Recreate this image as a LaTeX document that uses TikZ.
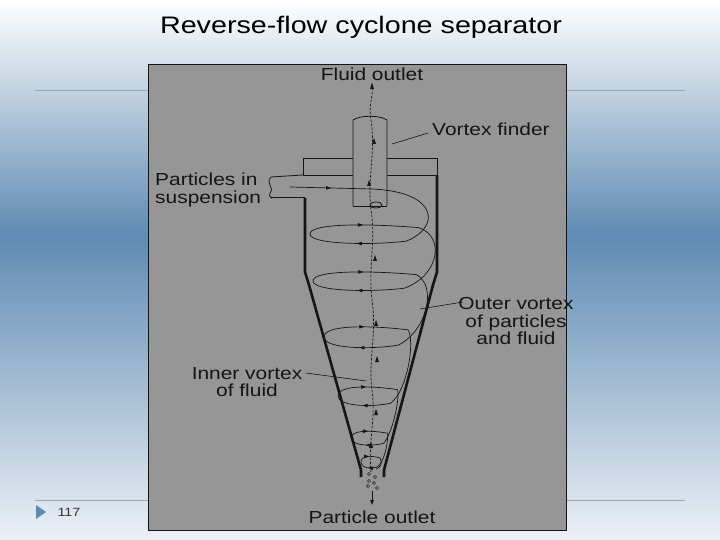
\documentclass[tikz,border=0pt]{standalone}
\usepackage{fontspec}
\setmainfont[FakeStretch=1.2]{Liberation Sans}
\usetikzlibrary{arrows.meta,decorations.markings}
\definecolor{slideblue}{HTML}{5F8AB3}
\definecolor{imggray}{HTML}{969696}
\definecolor{ink}{HTML}{151515}
\tikzset{
  lbl/.style={font=\fontsize{17.5}{17.5}\selectfont, text=ink, inner sep=0pt},
  wall/.style={draw=ink, line width=2.6pt},
  thin/.style={draw=ink, line width=0.8pt},
  flow/.style={draw=ink, line width=0.7pt},
  fwd/.style={postaction={decorate},decoration={markings,mark=at position .5 with {\arrow{Triangle[length=5pt,width=3.5pt]}}}},
  inner/.style={draw=ink, line width=0.7pt, dash pattern=on 2.5pt off 1.5pt},
}
\begin{document}
\begin{tikzpicture}[x=1bp,y=-1bp]
\useasboundingbox (0,0) rectangle (720,540);
% slide background
\shade[top color=white, bottom color=slideblue] (0,0) rectangle (720,235);
\shade[top color=slideblue, bottom color=white!88!slideblue] (0,235) rectangle (720,540);
\draw[gray!70, line width=0.6pt] (35,90) -- (685,90);
\draw[gray!70, line width=0.6pt] (35,500) -- (685,500);
\node[font=\fontsize{24}{26}\selectfont, text=black, inner sep=0pt] (title) at (361,27) {Reverse-flow cyclone separator};
\fill[slideblue] (36,505) -- (46,512) -- (36,519) -- cycle;
\node[font=\fontsize{12}{13}\selectfont, text=black!80, anchor=west] (pg) at (54,512) {117};
% image
\fill[imggray] (148,65) rectangle (566,530);
\draw[ink, line width=1pt] (148,65) rectangle (566,530);
% body walls
\draw[wall] (305,198) -- (305,272) -- (309,285) -- (361,470) -- (361,477);
\draw[wall] (437,175) -- (437,272) -- (433,285) -- (384,470) -- (384,477);
% top plate and inlet
\draw[thin] (303,175) -- (303,158) -- (437,158) -- (437,175) -- (303,175);
\draw[thin] (303,175) -- (271,177);
\draw[thin] (271,197) -- (305,197);
\draw[thin] (271,177) .. controls (265,183) and (275,188) .. (270,193) .. controls (268,197) and (273,199) .. (271,197);
% vortex finder
\draw[thin, fill=imggray] (353,206) -- (353,120) .. controls (360,115) and (380,115) .. (387,120) -- (387,206);
\draw[thin] (353,206) -- (387,206);
\draw[thin] (376,205) ellipse (6 and 3);
% outer vortex loops
\foreach \Y/\R/\A [count=\i] in {234/62/8, 281/59/8, 337/48/9, 396/34/8, 438/21/6, 462/11/5}{
  \draw[flow, fwd] (372-\R,\Y) .. controls (372-\R,\Y-1.33*\A) and (372-0.1*\R,\Y-1.33*\A) .. (372+\R*0.75,\Y-\A*0.8);
  \draw[flow, fwd] (372+\R*0.55,\Y+\A*0.9) .. controls (372,\Y+\A*1.4) and (372-\R,\Y+1.33*\A) .. (372-\R,\Y);
  \coordinate (top\i) at (372+\R*0.75,\Y-\A*0.8);
  \coordinate (bot\i) at (372+\R*0.55,\Y+\A*0.9);
}
% inlet stream
\draw[flow, fwd] (290,187) -- (372,189);
\draw[flow] (372,189) .. controls (440,192) and (440,228) .. (bot1);
\draw[flow] (top1) .. controls (445,236) and (440,275) .. (bot2);
\draw[flow] (top2) .. controls (437,285) and (428,330) .. (bot3);
\draw[flow] (top3) .. controls (415,340) and (408,390) .. (bot4);
\draw[flow] (top4) .. controls (400,398) and (393,432) .. (bot5);
\draw[flow] (top5) .. controls (388,440) and (386,458) .. (bot6);
\draw[flow] (top6) .. controls (383,464) and (380,468) .. (376,469);
% inner vortex
\draw[inner] (371,472) .. controls (368,440) and (376,420) .. (372,390) .. controls (368,360) and (377,335) .. (372,300) .. controls (368,270) and (376,240) .. (371,210) .. controls (367,180) and (376,150) .. (371,120) .. controls (368,105) and (374,95) .. (372,84);
\foreach \p in {(372,86),(374,141),(369,183),(375,258),(376,323),(377,359),(376,412),(371,445)}
  \fill[ink] \p ++(0,-3) -- ++(-2,6) -- ++(4,0) -- cycle;
% particles
\foreach \p in {(369,474),(375,477),(369,481),(374,483),(368,486),(377,488)}
  \draw[ink, line width=0.5pt] \p circle (1.6);
\coordinate (po) at (372,505);
\draw[ink, line width=0.8pt, -{Triangle[length=5pt,width=3.5pt]}] (372,491) -- (po);
% labels
\node[lbl] (fo) at (372,74) {Fluid outlet};
\node[lbl, anchor=west] (vf) at (432,129) {Vortex finder};
\draw[thin, line width=0.6pt] (392,144) -- (428,133);
\node[lbl, align=left, anchor=west] (pis) at (155,190) {Particles in\\suspension};
\node[lbl, align=center] (ov) at (516,321) {Outer vortex\\of particles\\and fluid};
\draw[thin, line width=0.6pt] (420,309) -- (463,302);
\node[lbl, align=center] (iv) at (247,382) {Inner vortex\\of fluid};
\draw[thin, line width=0.6pt] (306,373) -- (366,381);
\node[lbl] (pout) at (372,517) {Particle outlet};
\end{tikzpicture}
\end{document}
